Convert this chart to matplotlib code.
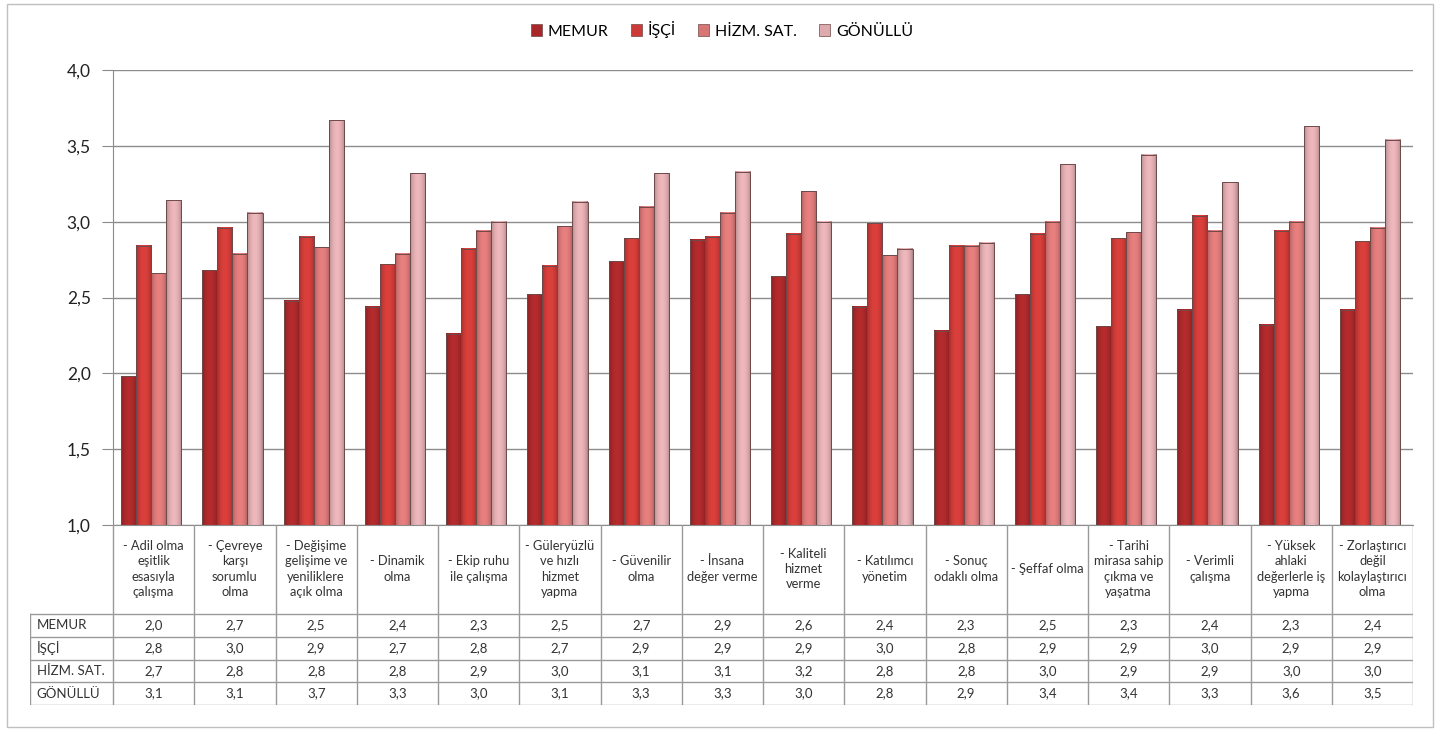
import numpy as np
import matplotlib
matplotlib.use("Agg")
import matplotlib.pyplot as plt
from matplotlib.patches import Patch, Rectangle
from matplotlib.ticker import FuncFormatter
from matplotlib.colors import to_rgb

plt.rcParams['font.family'] = ['Lato', 'DejaVu Sans']

# veriler
categories = [
    "- Adil olma\neşitlik\nesasıyla\nçalışma",
    "- Çevreye\nkarşı\nsorumlu\nolma",
    "- Değişime\ngelişime ve\nyeniliklere\naçık olma",
    "- Dinamik\nolma",
    "- Ekip ruhu\nile çalışma",
    "- Güleryüzlü\nve hızlı\nhizmet\nyapma",
    "- Güvenilir\nolma",
    "- İnsana\ndeğer verme",
    "- Kaliteli\nhizmet\nverme",
    "- Katılımcı\nyönetim",
    "- Sonuç\nodaklı olma",
    "- Şeffaf olma",
    "- Tarihi\nmirasa sahip\nçıkma ve\nyaşatma",
    "- Verimli\nçalışma",
    "- Yüksek\nahlaki\ndeğerlerle iş\nyapma",
    "- Zorlaştırıcı\ndeğil\nkolaylaştırıcı\nolma",
]
series_names = ["MEMUR", "İŞÇİ", "HİZM. SAT.", "GÖNÜLLÜ"]
memur = [1.98, 2.68, 2.48, 2.44, 2.26, 2.52, 2.74, 2.88, 2.64, 2.44, 2.28, 2.52, 2.31, 2.42, 2.32, 2.42]
isci = [2.84, 2.96, 2.90, 2.72, 2.82, 2.71, 2.89, 2.90, 2.92, 2.99, 2.84, 2.92, 2.89, 3.04, 2.94, 2.87]
hizm = [2.66, 2.79, 2.83, 2.79, 2.94, 2.97, 3.10, 3.06, 3.20, 2.78, 2.84, 3.00, 2.93, 2.94, 3.00, 2.96]
gonullu = [3.14, 3.06, 3.67, 3.32, 3.00, 3.13, 3.32, 3.33, 3.00, 2.82, 2.86, 3.38, 3.44, 3.26, 3.63, 3.54]
series = [memur, isci, hizm, gonullu]
colors = ["#A8282A", "#CC3B38", "#D87676", "#DDAAAE"]
y_ticks = [1.0, 1.5, 2.0, 2.5, 3.0, 3.5, 4.0]

W, H = 1446, 733
fig = plt.figure(figsize=(W / 100, H / 100), dpi=100)

# ana grafik
ax = fig.add_axes([113 / W, 1 - 525 / H, 1300 / W, 455 / H])
x = np.arange(len(categories))
bw = 0.185
shade = 0.74 + 0.34 * np.sin(np.pi * np.linspace(0, 1, 40)) ** 0.6
for i, (vals, c) in enumerate(zip(series, colors)):
    bars = ax.bar(x + (i - 1.5) * bw - 0.03, np.array(vals) - 1.0, bw, bottom=1.0,
                  facecolor="none", edgecolor="#6E4A4A", linewidth=0.7, zorder=3)
    grad = np.clip(np.array(to_rgb(c))[None, None, :] * shade[None, :, None], 0, 1)
    for b in bars:
        x0, y0 = b.get_x(), b.get_y()
        ax.imshow(grad, extent=[x0, x0 + b.get_width(), y0, y0 + b.get_height()],
                  aspect="auto", interpolation="bilinear", zorder=2.5)

ax.set_xlim(-0.5, len(categories) - 0.5)
ax.set_ylim(1.0, 4.0)
ax.set_yticks(y_ticks)
ax.yaxis.set_major_formatter(FuncFormatter(lambda v, _: f"{v:.1f}".replace(".", ",")))
ax.set_xticks([])
ax.tick_params(axis="y", direction="out", length=8, color="#8C8C8C", labelsize=12.5,
               pad=8, labelcolor="#222222")
ax.yaxis.grid(True, color="#8C8C8C", lw=1)
ax.set_axisbelow(True)
for s in ["top", "right"]:
    ax.spines[s].set_visible(False)
for s in ["left", "bottom"]:
    ax.spines[s].set_color("#8C8C8C")

# veri tablosu
lab_w = 83 / 81.25
tx = fig.add_axes([30 / W, 1 - 705 / H, (1413 - 30) / W, 180 / H])
tx.set_xlim(-0.5 - lab_w, len(categories) - 0.5)
tx.set_ylim(705, 525)
tx.axis("off")
lc = "#9A9A9A"
row_top = 614
row_h = (705 - row_top) / len(series)
for k in range(len(categories) + 1):
    tx.plot([k - 0.5, k - 0.5], [525, 705], color=lc, lw=1)
tx.plot([-0.5 - lab_w] * 2, [row_top, 705], color=lc, lw=1)
for r in range(len(series) + 1):
    yy = row_top + r * row_h
    tx.plot([-0.5 - lab_w, len(categories) - 0.5], [yy, yy], color=lc, lw=1)
for k, name in enumerate(categories):
    tx.text(k, 569, name, ha="center", va="center", fontsize=9.3, color="#333333",
            linespacing=1.35)
for r, (name, vals) in enumerate(zip(series_names, series)):
    yc = row_top + (r + 0.5) * row_h
    tx.text(-0.5 - lab_w + 0.08, yc, name, ha="left", va="center", fontsize=9.5, color="#333333")
    for k, v in enumerate(vals):
        tx.text(k, yc, f"{v:.1f}".replace(".", ","), ha="center", va="center",
                fontsize=9.5, color="#333333")

# gösterge
handles = [Patch(facecolor=c, edgecolor="#6E4A4A", linewidth=0.5) for c in colors]
fig.legend(handles, series_names, loc="center", bbox_to_anchor=(722 / W, 1 - 30 / H),
           ncol=4, frameon=False, handlelength=0.7, handleheight=0.7,
           columnspacing=1.4, handletextpad=0.35, fontsize=11.5)

# dış çerçeve
fig.patches.append(Rectangle((7 / W, 1 - 727 / H), (1433 - 7) / W, (727 - 4) / H,
                             transform=fig.transFigure, fill=False, ec="#BFBFBF", lw=1))

fig.savefig("out.png", dpi=100)
